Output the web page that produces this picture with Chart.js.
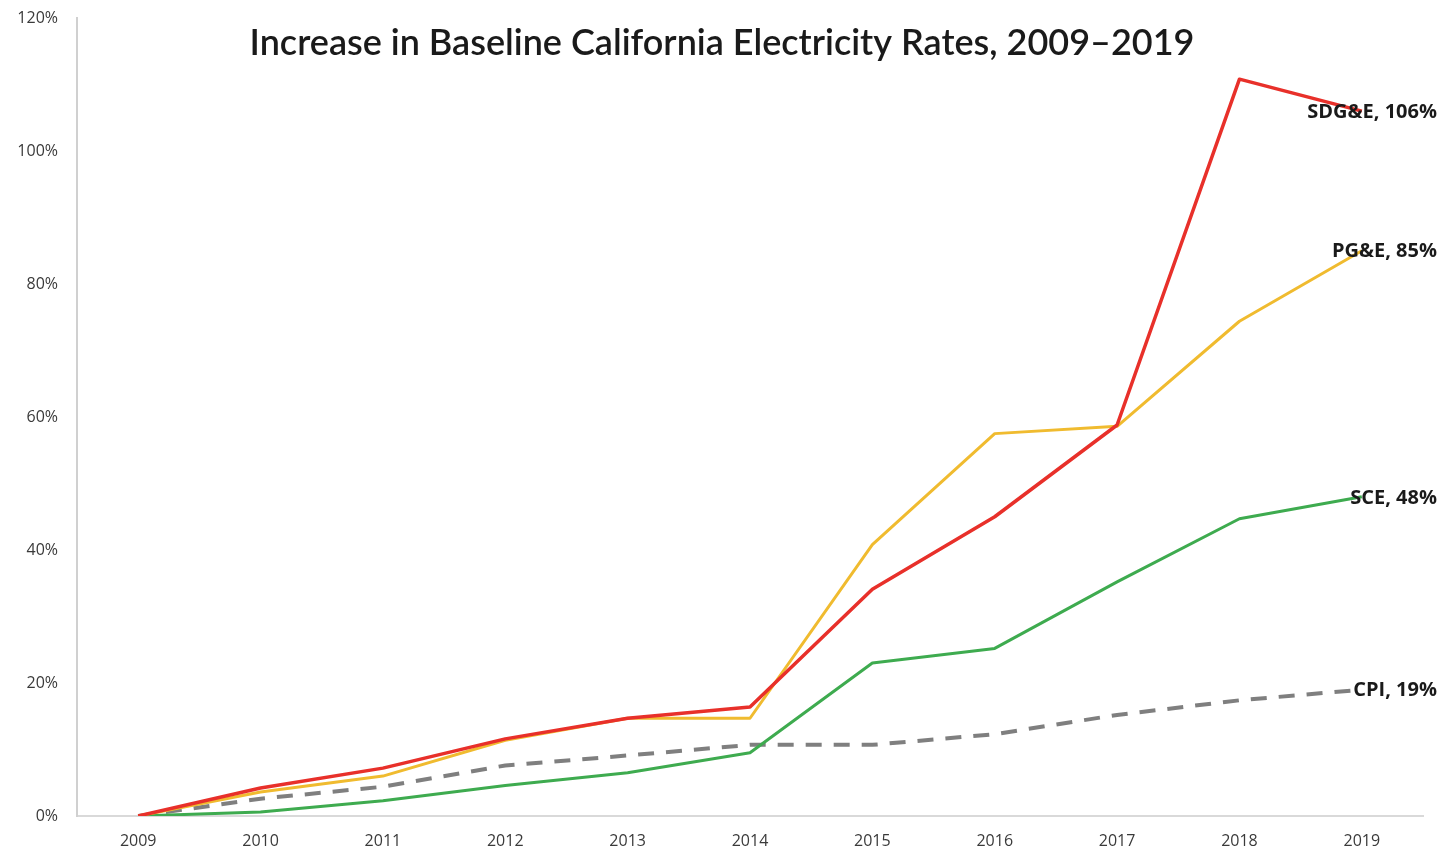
<!DOCTYPE html>
<html>
<head>
<meta charset="utf-8">
<script src="https://cdn.jsdelivr.net/npm/chart.js@4"></script>
<style>
    html, body { margin: 0; padding: 0; background: #fff; }
    #wrap { position: relative; width: 1443px; height: 854px; }
</style>
</head>
<body>
<div id="wrap"><canvas id="rates-chart"></canvas></div>
<script>
const years = ['2009', '2010', '2011', '2012', '2013', '2014', '2015', '2016', '2017', '2018', '2019'];
const sdge = [0, 4.2, 7.2, 11.6, 14.7, 16.4, 34.1, 45.0, 58.8, 110.8, 106];
const pge = [0, 3.6, 6.0, 11.4, 14.7, 14.7, 40.8, 57.5, 58.6, 74.4, 85];
const sce = [0, 0.6, 2.3, 4.6, 6.5, 9.5, 23.0, 25.2, 35.2, 44.7, 48];
const cpi = [0, 2.6, 4.4, 7.6, 9.1, 10.7, 10.7, 12.3, 15.2, 17.4, 19];
const yTicks = [0, 20, 40, 60, 80, 100, 120];
const endLabels = ['SDG&E, 106%', 'PG&E, 85%', 'SCE, 48%', 'CPI, 19%'];

const chartTitle = 'Increase in Baseline California Electricity Rates, 2009\u20132019';

// title and end-of-line labels drawn on top of the plot
const annotations = {
    id: 'annotations',
    afterDatasetsDraw(chart) {
        const ctx = chart.ctx;
        ctx.save();
        ctx.fillStyle = '#1a1a1a';
        ctx.font = '600 36px Lato, "Open Sans", sans-serif';
        ctx.textAlign = 'center';
        ctx.textBaseline = 'middle';
        ctx.fillText(chartTitle, 722, 43);

        ctx.font = 'bold 20px "Open Sans", sans-serif';
        ctx.textAlign = 'right';
        const xScale = chart.scales.x;
        const yScale = chart.scales.y;
        chart.data.datasets.forEach((ds, i) => {
            const last = ds.data.length - 1;
            const y = yScale.getPixelForValue(ds.data[last]);
            ctx.fillText(endLabels[i], xScale.right + 14, y + 1);
        });
        ctx.restore();
    }
};

const ctx = document.getElementById('rates-chart').getContext('2d');
new Chart(ctx, {
    type: 'line',
    data: {
        labels: years,
        datasets: [
            { label: 'SDG&E', data: sdge, borderColor: '#e8302a', borderWidth: 3.5 },
            { label: 'PG&E', data: pge, borderColor: '#f0bb2f', borderWidth: 3 },
            { label: 'SCE', data: sce, borderColor: '#3eab4f', borderWidth: 3 },
            { label: 'CPI', data: cpi, borderColor: '#7f7f7f', borderWidth: 4, borderDash: [16, 12] }
        ]
    },
    options: {
        responsive: true,
        maintainAspectRatio: false,
        animation: false,
        layout: { autoPadding: false, padding: { top: 18, right: 20, left: 0, bottom: 0 } },
        elements: {
            point: { radius: 0, hoverRadius: 0 },
            line: { tension: 0, borderCapStyle: 'butt', borderJoinStyle: 'round' }
        },
        scales: {
            x: {
                offset: true,
                grid: { display: false, drawTicks: false },
                border: { display: true, color: '#d9d9d9', width: 2 },
                ticks: { color: '#3a3a3a', font: { family: '"Open Sans", sans-serif', size: 16 }, padding: 16, maxRotation: 0 },
                afterFit(scale) { scale.height = 38; scale.paddingLeft = 0; scale.paddingRight = 0; }
            },
            y: {
                min: 0,
                max: 120,
                afterBuildTicks(scale) { scale.ticks = yTicks.map(v => ({ value: v })); },
                grid: { display: false, drawTicks: false },
                border: { display: true, color: '#d0d0d0', width: 2 },
                ticks: {
                    color: '#3a3a3a',
                    font: { family: '"Open Sans", sans-serif', size: 16 },
                    padding: 19,
                    callback: v => v + '%'
                },
                afterFit(scale) { scale.width = 77; scale.paddingTop = 0; scale.paddingBottom = 0; }
            }
        },
        plugins: {
            legend: { display: false },
            tooltip: { enabled: false }
        }
    },
    plugins: [annotations]
});
</script>
</body>
</html>
